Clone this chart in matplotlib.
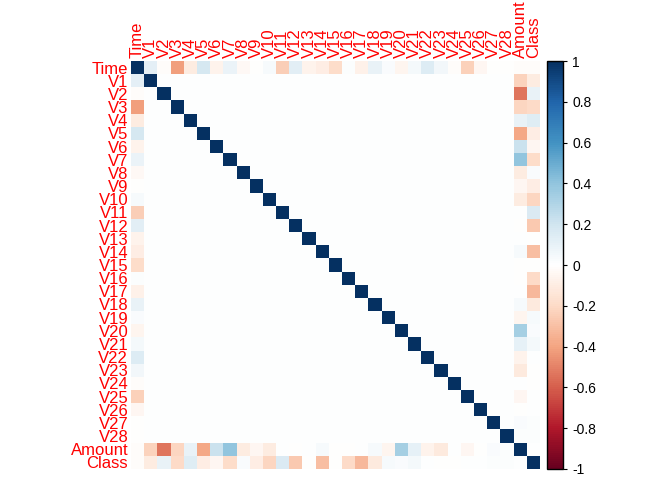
import numpy as np
import matplotlib
matplotlib.use("Agg")
import matplotlib.pyplot as plt
from matplotlib.colors import LinearSegmentedColormap

plt.rcParams['font.family'] = ['Liberation Sans', 'DejaVu Sans']

names = ["Time"] + ["V%d" % i for i in range(1, 29)] + ["Amount", "Class"]

# correlations of Time with V1..V28, Amount, Class
time_corr = [0.117, -0.011, -0.420, -0.105, 0.173, -0.063, 0.085, -0.037, -0.009, 0.031,
             -0.248, 0.124, -0.066, -0.099, -0.183, 0.012, -0.073, 0.090, 0.029, -0.051,
             0.045, 0.144, 0.051, -0.016, -0.233, -0.041, -0.005, -0.009, -0.011, -0.012]
# correlations of Amount with V1..V28
amount_corr = [-0.228, -0.531, -0.211, 0.099, -0.386, 0.216, 0.397, -0.103, -0.044, -0.102,
               0.000, -0.010, 0.005, 0.034, -0.003, -0.004, 0.007, 0.036, -0.056, 0.339,
               0.106, -0.065, -0.113, 0.005, -0.048, -0.003, 0.029, 0.010]
# correlations of Class with V1..V28, Amount
class_corr = [-0.101, 0.091, -0.193, 0.133, -0.095, -0.044, -0.187, 0.020, -0.098, -0.217,
              0.155, -0.261, -0.005, -0.303, -0.004, -0.197, -0.326, -0.111, 0.035, 0.020,
              0.040, 0.001, -0.003, -0.007, 0.003, 0.004, 0.018, 0.010, 0.006]

n = len(names)
corr = np.eye(n)
corr[0, 1:] = time_corr
corr[1:, 0] = time_corr
corr[29, 1:29] = amount_corr
corr[1:29, 29] = amount_corr
corr[30, 1:30] = class_corr
corr[1:30, 30] = class_corr

cols = ["#67001F", "#B2182B", "#D6604D", "#F4A582", "#FDDBC7", "#FFFFFF",
        "#D1E5F0", "#92C5DE", "#4393C3", "#2166AC", "#053061"]
cmap = LinearSegmentedColormap.from_list("rdbu", cols, N=200)

fig = plt.figure(figsize=(6.72, 4.8), dpi=100)
W, H = 672, 480
ax = fig.add_axes([131 / W, (480 - 469) / H, 409 / W, 408 / H])
im = ax.imshow(corr, cmap=cmap, vmin=-1, vmax=1, aspect='auto', interpolation='nearest')
ax.set_xticks(range(n))
ax.set_yticks(range(n))
ax.set_xticklabels(names, rotation=90, color='red', fontsize=12)
ax.set_yticklabels(names, color='red', fontsize=12)
ax.xaxis.tick_top()
ax.tick_params(length=0, pad=2)
for s in ax.spines.values():
    s.set_visible(False)

cax = fig.add_axes([547 / W, (480 - 469) / H, 16 / W, 408 / H])
cb = fig.colorbar(im, cax=cax, ticks=np.arange(-1, 1.01, 0.2))
cb.ax.set_yticklabels(["-1", "-0.8", "-0.6", "-0.4", "-0.2", "0", "0.2", "0.4", "0.6", "0.8", "1"])
cb.ax.tick_params(labelsize=10, length=3, width=0.8)
cb.outline.set_linewidth(1)

fig.savefig("out.png", dpi=100)
